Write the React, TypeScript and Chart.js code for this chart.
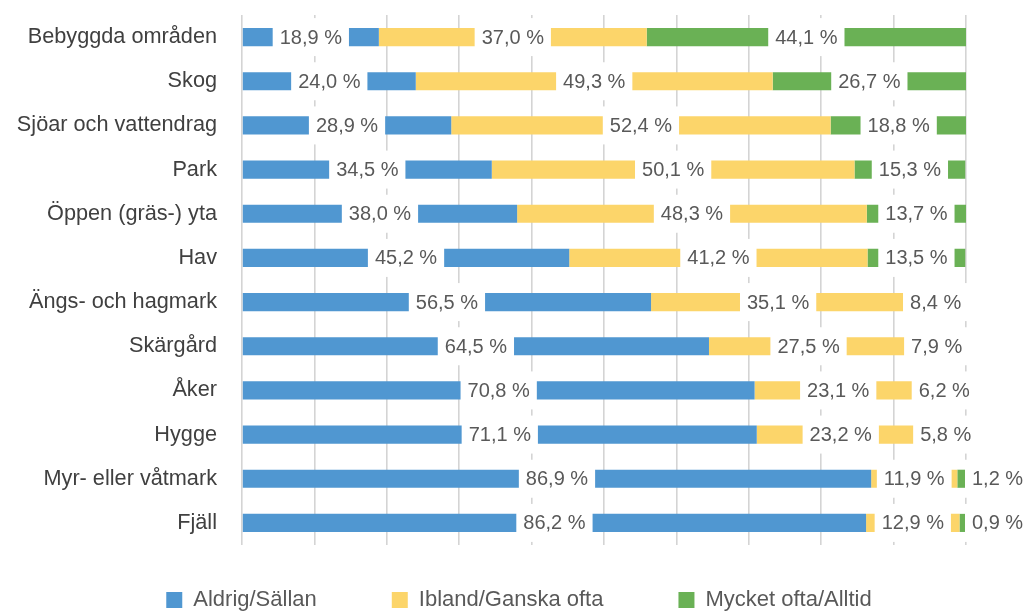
import React, { useEffect, useRef } from "react";
import { Chart, registerables } from "chart.js";

Chart.register(...registerables);

const categories = [
  "Bebyggda områden",
  "Skog",
  "Sjöar och vattendrag",
  "Park",
  "Öppen (gräs-) yta",
  "Hav",
  "Ängs- och hagmark",
  "Skärgård",
  "Åker",
  "Hygge",
  "Myr- eller våtmark",
  "Fjäll",
];

const aldrigSallan = [18.9, 24.0, 28.9, 34.5, 38.0, 45.2, 56.5, 64.5, 70.8, 71.1, 86.9, 86.2];
const iblandGanskaOfta = [37.0, 49.3, 52.4, 50.1, 48.3, 41.2, 35.1, 27.5, 23.1, 23.2, 11.9, 12.9];
const mycketOftaAlltid = [44.1, 26.7, 18.8, 15.3, 13.7, 13.5, 8.4, 7.9, 6.2, 5.8, 1.2, 0.9];

const seriesNames = ["Aldrig/Sällan", "Ibland/Ganska ofta", "Mycket ofta/Alltid"];
const seriesColors = ["#5097D1", "#FCD56A", "#6AB155"];

const FONT = '"Liberation Sans", Arial, sans-serif';
const LEGEND_PAD = 75;
const LEGEND_LIFT = 31;
const LEGEND_SHIFT_X = 36;

const fmt = (v: number) => v.toFixed(1).replace(".", ",") + " %";

const labelPlugin = {
  id: "segmentLabels",
  afterDatasetsDraw(chart: any) {
    const ctx = chart.ctx;
    ctx.save();
    ctx.font = `20px ${FONT}`;
    ctx.textBaseline = "middle";
    ctx.textAlign = "left";
    chart.data.datasets.forEach((ds: any, di: number) => {
      const meta = chart.getDatasetMeta(di);
      meta.data.forEach((bar: any, i: number) => {
        const v = ds.data[i];
        const text = fmt(v);
        const tw = ctx.measureText(text).width;
        const { x, base, y } = bar.getProps(["x", "base", "y"], true);
        const segW = Math.abs(x - base);
        const padX = 7;
        let left: number;
        if (segW < 14) {
          left = Math.max(x, base) - 1;
        } else {
          left = (x + base) / 2 - tw / 2 - padX;
        }
        ctx.fillStyle = "#ffffff";
        ctx.fillRect(left, y - 19, tw + padX * 2, 38);
        ctx.fillStyle = "#595959";
        ctx.fillText(text, left + padX, y + 1);
      });
    });
    ctx.restore();
  },
};

const legendLift = {
  id: "legendLift",
  afterLayout(chart: any) {
    const lg = chart.legend;
    if (lg) {
      lg.top -= LEGEND_LIFT;
      lg.bottom -= LEGEND_LIFT;
      lg.left += LEGEND_SHIFT_X;
      lg.right += LEGEND_SHIFT_X;
    }
  },
};

export default function App() {
  const ref = useRef<HTMLCanvasElement | null>(null);

  useEffect(() => {
    if (!ref.current) return;
    const data = [aldrigSallan, iblandGanskaOfta, mycketOftaAlltid];
    const chart = new Chart(ref.current, {
      type: "bar",
      data: {
        labels: categories,
        datasets: seriesNames.map((name, k) => ({
          label: name,
          data: data[k],
          backgroundColor: seriesColors[k],
          borderWidth: 0,
          barPercentage: 0.41,
          categoryPercentage: 1,
        })),
      },
      options: {
        indexAxis: "y",
        animation: false,
        responsive: false,
        maintainAspectRatio: false,
        layout: { padding: { top: 15, right: 61, bottom: -40, left: 0 } },
        scales: {
          x: {
            stacked: true,
            min: 0,
            max: 100,
            ticks: { display: false, stepSize: 10 },
            grid: { color: "#d4d4d4", lineWidth: 1.6, drawTicks: false },
            border: { display: false },
            afterFit: (s: any) => {
              s.height = 0;
            },
          },
          y: {
            stacked: true,
            grid: { display: false, drawTicks: true, tickLength: 25 },
            border: { display: false },
            ticks: {
              padding: 0,
              color: "#404040",
              font: { family: FONT, size: 21.7 },
            },
            afterFit: (s: any) => {
              s.width = 242;
            },
          },
        },
        plugins: {
          legend: {
            position: "bottom",
            labels: {
              boxWidth: 16,
              boxHeight: 16,
              padding: LEGEND_PAD,
              color: "#595959",
              font: { family: FONT, size: 22 },
            },
          },
          tooltip: { enabled: false },
        },
      },
      plugins: [labelPlugin, legendLift],
    });
    return () => chart.destroy();
  }, []);

  return (
    <div style={{ position: "absolute", left: 0, top: 0, width: 1027, height: 612, background: "#fff" }}>
      <canvas ref={ref} width={1027} height={612} style={{ display: "block" }} />
    </div>
  );
}
